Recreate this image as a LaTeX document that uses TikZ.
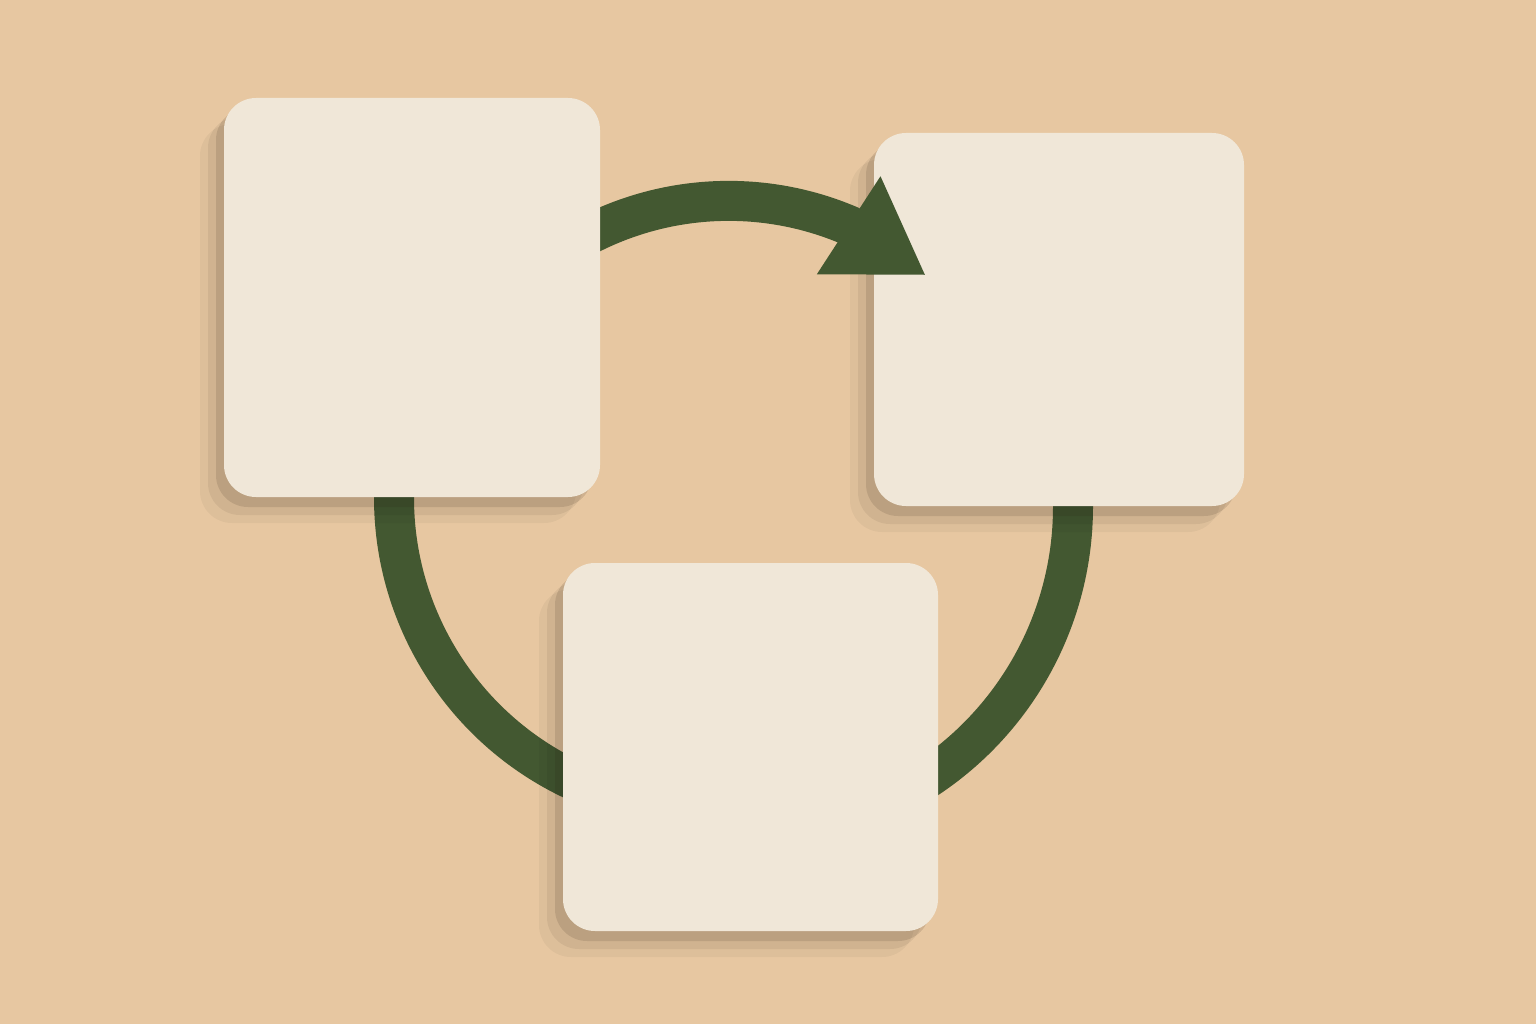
\documentclass[tikz,border=0pt]{standalone}
\usetikzlibrary{arrows.meta,shadows,positioning}
\definecolor{paperbg}{RGB}{231,199,161}
\definecolor{cardcream}{RGB}{240,231,216}
\definecolor{cyclegreen}{RGB}{67,88,49}

\pgfdeclarelayer{paper}
\pgfdeclarelayer{background}
\pgfdeclarelayer{front}
\pgfsetlayers{paper,background,main,front}

\tikzset{
  card/.style={fill=cardcream, rounded corners=3.2mm, inner sep=0pt,
    general shadow={shadow xshift=-2.4mm, shadow yshift=-2.6mm, fill=black, opacity=0.04},
    general shadow={shadow xshift=-1.6mm, shadow yshift=-1.8mm, fill=black, opacity=0.06},
    general shadow={shadow xshift=-0.8mm, shadow yshift=-1mm, fill=black!80!brown, opacity=0.12}},
  band/.style={draw=cyclegreen, line width=4mm}
}

\begin{document}
\begin{tikzpicture}
% Background
\begin{pgfonlayer}{paper}
\fill[paperbg] (0,0) rectangle (15.36,10.24);
\end{pgfonlayer}
\useasboundingbox (0,0) rectangle (15.36,10.24);

% Cards
\begin{pgfonlayer}{front}
\node[card, minimum width=37.6mm, minimum height=39.9mm] (stepA) at (4.12,7.265) {};
\end{pgfonlayer}
\node[card, minimum width=37mm, minimum height=37.3mm] (stepB) at (10.59,7.045) {};
\node[card, minimum width=37.5mm, minimum height=36.8mm] (stepC) at (7.505,2.77) {};

\coordinate (l0) at ([xshift=-1.8mm]stepA.south);
\coordinate (r0) at ([xshift=1.4mm]stepB.south);
\coordinate (t0) at ([xshift=-2.55mm, yshift=5.55mm]stepA.east);

% Lower bands, tucked under the cards
\begin{pgfonlayer}{background}
\draw[band] ([yshift=3mm]l0) -- (l0) arc[start angle=180, end angle=250, radius=3.12];
\draw[band] ([yshift=3mm]r0) -- (r0) arc[start angle=0, end angle=-60, radius=3.26];
\end{pgfonlayer}

% Top arrow, over the right card
\draw[band, -{Triangle[length=9.2mm, width=11mm]}] (t0) arc[start angle=120, end angle=67, radius=3.07] -- ++(-33:0.92);
\end{tikzpicture}
\end{document}
